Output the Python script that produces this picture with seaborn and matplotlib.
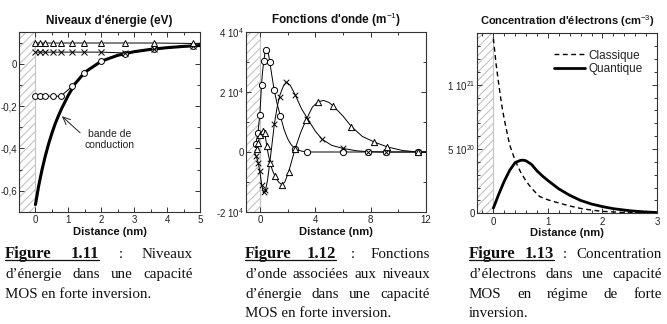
import matplotlib
matplotlib.use("Agg")
import matplotlib.pyplot as plt
import seaborn as sns
from matplotlib.lines import Line2D
from matplotlib.ticker import MultipleLocator, FixedLocator

# ---------------- Panel 1 : energy levels (eV) ----------------
band_x = [0, 0.1, 0.2, 0.3, 0.4, 0.5, 0.6, 0.7, 0.8, 1.0, 1.2, 1.5, 2.0, 2.5, 3.0, 3.5, 4.0, 4.5, 5.0]
band_e = [-0.665, -0.575, -0.50, -0.435, -0.378, -0.328, -0.283, -0.245, -0.21, -0.148, -0.095, -0.04,
          0.012, 0.04, 0.057, 0.068, 0.076, 0.082, 0.086]
mesh_x = [0, 0.13, 0.28, 0.52, 0.77, 1.12, 1.47, 2.0, 2.71, 3.61, 4.78]
lvl1_e = [-0.153, -0.153, -0.153, -0.153, -0.153, -0.106, -0.044, 0.0125, 0.048, 0.069, 0.085]
lvl2_e = [0.055, 0.055, 0.055, 0.055, 0.055, 0.055, 0.055, 0.055, 0.051, 0.069, 0.085]
lvl3_e = [0.098, 0.098, 0.098, 0.098, 0.098, 0.098, 0.098, 0.098, 0.098, 0.098, 0.096]
end_x = [4.78, 5.0]
end1_e = [0.085, 0.087]
end2_e = [0.085, 0.087]
end3_e = [0.096, 0.097]
p1_xticks = [0, 1, 2, 3, 4, 5]
p1_yticks = [-0.6, -0.4, -0.2, 0]
p1_ylabels = ["-0,6", "-0,4", "-0,2", "0"]

# ---------------- Panel 2 : wave functions (m^-1) ----------------
psi1_line_x = [-0.35, -0.3, -0.14, 0, 0.12, 0.2, 0.29, 0.36, 0.43, 0.5, 0.6, 0.72, 0.85, 1.03, 1.25, 1.49,
               1.75, 2.0, 2.25, 2.55, 3.0, 3.44, 4, 6, 8, 10, 12]
psi1_line_y = [0.2e4, 0.26e4, 0.63e4, 1.25e4, 2.24e4, 2.7e4, 3.04e4, 3.28e4, 3.39e4, 3.42e4, 3.33e4, 3.0e4,
               2.6e4, 2.08e4, 1.6e4, 1.19e4, 0.75e4, 0.45e4, 0.25e4, 0.11e4, 0.03e4, 0, 0, 0, 0, 0, 0]
psi1_mk_x = [-0.3, -0.14, 0, 0.12, 0.29, 0.43, 0.72, 1.03, 1.49, 2.55, 3.44, 5.99, 7.79, 9.14, 11.42]
psi1_mk_y = [0.26e4, 0.63e4, 1.25e4, 2.24e4, 3.04e4, 3.39e4, 3.0e4, 2.08e4, 1.19e4, 0.11e4, 0, 0, 0, 0, 0]

psi2_line_x = [-0.35, -0.27, -0.12, 0, 0.14, 0.22, 0.29, 0.36, 0.43, 0.55, 0.72, 0.85, 1.05, 1.25, 1.45,
               1.7, 1.92, 2.2, 2.57, 3.0, 3.44, 4.0, 4.5, 5.2, 6.0, 7.0, 7.8, 9, 12]
psi2_line_y = [-0.05e4, -0.13e4, -0.35e4, -0.64e4, -1.11e4, -1.28e4, -1.34e4, -1.33e4, -1.22e4, -0.95e4,
               -0.35e4, 0.15e4, 0.94e4, 1.5e4, 1.9e4, 2.2e4, 2.33e4, 2.22e4, 1.89e4, 1.45e4, 1.11e4, 0.7e4,
               0.42e4, 0.22e4, 0.12e4, 0.04e4, 0.01e4, 0, 0]
psi2_mk_x = [-0.27, -0.12, 0, 0.14, 0.29, 0.38, 0.72, 1.05, 1.42, 1.92, 2.57, 3.44, 4.5, 5.99, 7.79, 9.14, 11.42]
psi2_mk_y = [-0.13e4, -0.35e4, -0.64e4, -1.11e4, -1.33e4, -1.25e4, -0.35e4, 0.94e4, 1.84e4, 2.33e4, 1.89e4,
             1.11e4, 0.42e4, 0.13e4, 0, 0, 0]

psi3_line_x = [-0.35, -0.22, -0.12, 0.02, 0.12, 0.21, 0.3, 0.36, 0.5, 0.62, 0.74, 0.9, 1.08, 1.35, 1.59, 1.8,
               2.07, 2.3, 2.55, 2.95, 3.34, 3.8, 4.2, 4.6, 5.0, 5.31, 6.0, 6.61, 7.4, 8.27, 9.21, 10.3, 11.42, 12]
psi3_line_y = [0.03e4, 0.09e4, 0.31e4, 0.58e4, 0.66e4, 0.7e4, 0.68e4, 0.62e4, 0.2e4, -0.1e4, -0.35e4, -0.6e4,
               -0.79e4, -1.0e4, -1.09e4, -1.0e4, -0.68e4, -0.3e4, 0.11e4, 0.65e4, 1.07e4, 1.5e4, 1.67e4,
               1.72e4, 1.65e4, 1.53e4, 1.2e4, 0.85e4, 0.52e4, 0.33e4, 0.17e4, 0.05e4, 0, 0]
psi3_mk_x = [-0.22, -0.12, 0.02, 0.21, 0.36, 0.5, 0.74, 1.08, 1.59, 2.07, 2.55, 3.34, 4.2, 5.31, 6.61, 8.27,
             9.21, 11.42]
psi3_mk_y = [0.09e4, 0.31e4, 0.58e4, 0.69e4, 0.64e4, 0.2e4, -0.35e4, -0.79e4, -1.09e4, -0.68e4, 0.11e4,
             1.07e4, 1.67e4, 1.53e4, 0.85e4, 0.33e4, 0.17e4, 0]
p2_xticks = [0, 4, 8, 12]
p2_yticks = [-2e4, 0, 2e4, 4e4]
p2_ylabels = ["-2 10$^{4}$", "0", "2 10$^{4}$", "4 10$^{4}$"]

# ---------------- Panel 3 : electron concentration (cm^-3) ----------------
quant_x = [0, 0.05, 0.1, 0.15, 0.2, 0.3, 0.4, 0.5, 0.55, 0.6, 0.7, 0.8, 0.9, 1.0, 1.2, 1.4, 1.6, 1.8, 2.0,
           2.2, 2.5, 2.8, 3.0]
quant_n = [0.4e20, 0.95e20, 1.5e20, 2.0e20, 2.5e20, 3.35e20, 3.95e20, 4.12e20, 4.13e20, 4.08e20, 3.8e20,
           3.3e20, 2.9e20, 2.55e20, 1.9e20, 1.4e20, 1.0e20, 0.72e20, 0.52e20, 0.36e20, 0.2e20, 0.1e20, 0.06e20]
class_x = [0, 0.05, 0.1, 0.15, 0.2, 0.3, 0.4, 0.5, 0.6, 0.7, 0.8, 0.85, 1.0, 1.2, 1.4, 1.6, 1.8, 2.0, 2.4,
           2.8, 3.0]
class_n = [13.6e20, 11.6e20, 10.0e20, 8.5e20, 7.3e20, 5.3e20, 4.1e20, 3.2e20, 2.5e20, 1.95e20, 1.5e20,
           1.3e20, 1.05e20, 0.8e20, 0.57e20, 0.38e20, 0.25e20, 0.15e20, 0.06e20, 0.03e20, 0.02e20]
p3_xticks = [0, 1, 2, 3]
p3_yticks = [0, 5e20, 1e21]
p3_ylabels = ["0", "5 10$^{20}$", "1 10$^{21}$"]

# ---------------- style ----------------
sns.set_theme(style="ticks")
plt.rcParams["font.family"] = ["Liberation Sans", "DejaVu Sans"]
plt.rcParams["mathtext.fontset"] = "custom"
plt.rcParams["mathtext.rm"] = "Liberation Sans"
plt.rcParams["mathtext.it"] = "Liberation Sans:italic"
plt.rcParams["mathtext.bf"] = "Liberation Sans:bold"
plt.rcParams["hatch.linewidth"] = 0.8
plt.rcParams["hatch.color"] = "#c4c4c4"

W, H = 667, 324
fig = plt.figure(figsize=(W / 100, H / 100), dpi=100)
fig.patch.set_facecolor("white")


def make_ax(left, top, width, height):
    return fig.add_axes([left / W, 1 - (top + height) / H, width / W, height / H])


ax1 = make_ax(19, 32, 181, 180)
ax2 = make_ax(246, 32, 180, 180)
ax3 = make_ax(477, 33.3, 180, 180)

TICK_FS = 7
TITLE_FS = 8.5
XL_FS = 8


def style_ax(ax, title, xlim, ylim, title_fs=TITLE_FS):
    ax.set_xlim(*xlim)
    ax.set_ylim(*ylim)
    ax.set_facecolor("white")
    for s in ax.spines.values():
        s.set_color("#333333")
        s.set_linewidth(0.8)
        s.set_visible(True)
    ax.tick_params(which="both", direction="in", top=True, right=True, colors="#333333",
                   labelcolor="#222222", labelsize=TICK_FS, width=0.7)
    ax.tick_params(axis="y", pad=1.5)
    ax.tick_params(axis="x", pad=2.5)
    ax.tick_params(which="major", length=3.5)
    ax.tick_params(which="minor", length=2)
    ax.set_title(title, fontsize=title_fs, fontweight="bold", pad=6, color="#111111")
    ax.set_xlabel("Distance (nm)", fontsize=XL_FS, fontweight="bold", labelpad=1, color="#111111")
    ax.set_ylabel("")
    ax.axvspan(xlim[0], 0, facecolor="white", edgecolor="#c4c4c4", hatch="////", lw=0.8, zorder=0)


# ---- panel 1
style_ax(ax1, "Niveaux d'énergie (eV)", (-0.5, 5), (-0.7, 0.15))
sns.lineplot(x=band_x, y=band_e, ax=ax1, color="black", lw=2.2, sort=False, estimator=None, zorder=4)
for ys, ye, mk in [(lvl1_e, end1_e, "o"), (lvl2_e, end2_e, "x"), (lvl3_e, end3_e, "^")]:
    sns.lineplot(x=end_x, y=ye, ax=ax1, color="black", lw=0.7, sort=False, estimator=None, zorder=3)
    kw = dict(marker=mk, markersize=4.2, markeredgewidth=0.7, markeredgecolor="black")
    if mk != "x":
        kw["markerfacecolor"] = "white"
    sns.lineplot(x=mesh_x, y=ys, ax=ax1, color="black", lw=0.7, sort=False, estimator=None,
                 zorder=5, **kw)
ax1.xaxis.set_major_locator(FixedLocator(p1_xticks))
ax1.xaxis.set_minor_locator(MultipleLocator(0.5))
ax1.yaxis.set_major_locator(FixedLocator(p1_yticks))
ax1.set_yticklabels(p1_ylabels)
ax1.yaxis.set_minor_locator(MultipleLocator(0.1))
ax1.text(2.26, -0.356, "bande de\nconduction", fontsize=7.5, ha="center", va="center",
         color="#222222", linespacing=1.15)
ax1.annotate("", xy=(0.74, -0.239), xytext=(1.42, -0.335),
             arrowprops=dict(arrowstyle="->,head_length=0.45,head_width=0.2", color="#222222", lw=0.7))

# ---- panel 2
style_ax(ax2, "Fonctions d'onde (m$^{-1}$)", (-1, 12), (-2e4, 4e4))
for lx, ly, mx, my, mk in [(psi1_line_x, psi1_line_y, psi1_mk_x, psi1_mk_y, "o"),
                           (psi2_line_x, psi2_line_y, psi2_mk_x, psi2_mk_y, "x"),
                           (psi3_line_x, psi3_line_y, psi3_mk_x, psi3_mk_y, "^")]:
    sns.lineplot(x=lx, y=ly, ax=ax2, color="black", lw=0.7, sort=False, estimator=None, zorder=3)
    if mk == "x":
        sns.scatterplot(x=mx, y=my, ax=ax2, marker="x", s=16, color="black", linewidth=0.7, zorder=5)
    else:
        sns.scatterplot(x=mx, y=my, ax=ax2, marker=mk, s=20, color="white", edgecolor="black",
                        linewidth=0.7, zorder=5)
ax2.xaxis.set_major_locator(FixedLocator(p2_xticks))
ax2.xaxis.set_minor_locator(MultipleLocator(2))
ax2.yaxis.set_major_locator(FixedLocator(p2_yticks))
ax2.set_yticklabels(p2_ylabels)
ax2.yaxis.set_minor_locator(MultipleLocator(1e4))

# ---- panel 3
style_ax(ax3, "Concentration d'électrons (cm$^{-3}$)", (-0.3, 3), (0, 1.4e21), title_fs=8.0)
sns.lineplot(x=class_x, y=class_n, ax=ax3, color="black", lw=1.0, sort=False, estimator=None,
             label="Classique", dashes=False, linestyle=(0, (3.5, 2.5)))
sns.lineplot(x=quant_x, y=quant_n, ax=ax3, color="black", lw=2.0, sort=False, estimator=None,
             label="Quantique")
ax3.xaxis.set_major_locator(FixedLocator(p3_xticks))
ax3.xaxis.set_minor_locator(MultipleLocator(0.2))
ax3.yaxis.set_major_locator(FixedLocator(p3_yticks))
ax3.set_yticklabels(p3_ylabels)
ax3.yaxis.set_minor_locator(MultipleLocator(1e20))
leg = ax3.legend(loc="upper left", bbox_to_anchor=(0.43, 0.91), frameon=False, fontsize=8.5,
                 handlelength=2.6, handletextpad=0.3, labelspacing=0.1, borderpad=0, borderaxespad=0)
for t in leg.get_texts():
    t.set_color("#222222")

# ---------------- captions (justified) ----------------
renderer = fig.canvas.get_renderer()
SERIF = ["Liberation Serif", "DejaVu Serif"]
B = dict(family=SERIF, fontsize=12, fontweight="bold", color="#111111")
N = dict(family=SERIF, fontsize=10.8, color="#111111")


def place_line(words, x0, x1, base, justify):
    texts, widths = [], []
    for w, kw in words:
        t = fig.text(0, 0, w, ha="left", va="baseline", **kw)
        widths.append(t.get_window_extent(renderer).width)
        texts.append(t)
    gap = (x1 - x0 - sum(widths)) / (len(words) - 1) if (justify and len(words) > 1) else 0
    x = x0
    pos = []
    for t, w in zip(texts, widths):
        t.set_position((x / W, 1 - base / H))
        pos.append((x, x + w))
        x += w + gap
    return pos


def words_of(s):
    return [(w, N) for w in s.split(" ")]


captions = [
    (5, 193, "1.11", ["Niveaux"], ["d’énergie dans une capacité"], "MOS en forte inversion."),
    (245, 430, "1.12", ["Fonctions"], ["d’onde associées aux niveaux", "d’énergie dans une capacité"],
     "MOS en forte inversion."),
    (469, 662, "1.13", ["Concentration"], ["d’électrons dans une capacité", "MOS en régime de forte"],
     "inversion."),
]
LINE0, LSP = 258, 19.8
for x0, x1, num, rest, mids, last in captions:
    first = [("Figure", B), (num, B), (":", N)] + [(w, N) for w in rest]
    pos = place_line(first, x0, x1, LINE0, True)
    fig.add_artist(Line2D([pos[0][0] / W, pos[1][1] / W], [1 - (LINE0 + 2) / H] * 2,
                          color="#111111", lw=0.9, transform=fig.transFigure))
    base = LINE0
    for m in mids:
        base += LSP
        place_line(words_of(m), x0, x1, base, True)
    base += LSP
    place_line([(last, N)], x0, x1, base, False)

fig.savefig("out.png", dpi=100, facecolor="white")
